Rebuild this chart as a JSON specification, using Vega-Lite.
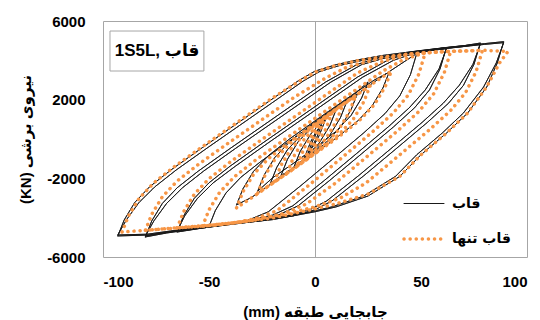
{
"$schema": "https://vega.github.io/schema/vega-lite/v6.json",
"width": 424,
"height": 236,
"autosize": {"type": "none"},
"padding": {"left": 103, "top": 21, "right": 13, "bottom": 63},
"config": {"view": {"stroke": "#a6a6a6", "strokeWidth": 1}, "font": "Liberation Sans, DejaVu Sans"},
"layer": [
{
"data": {"values": [
{"series":"قاب","loop":1,"x":-3,"y":-650},{"series":"قاب","loop":1,"x":-1,"y":-75},{"series":"قاب","loop":1,"x":1,"y":380},{"series":"قاب","loop":1,"x":3,"y":700},{"series":"قاب","loop":1,"x":1,"y":125},{"series":"قاب","loop":1,"x":-1,"y":-330},{"series":"قاب","loop":1,"x":-3,"y":-650},
{"series":"قاب","loop":2,"x":-5,"y":-950},{"series":"قاب","loop":2,"x":-2,"y":-135},{"series":"قاب","loop":2,"x":0,"y":272},{"series":"قاب","loop":2,"x":3,"y":754},{"series":"قاب","loop":2,"x":5,"y":1000},{"series":"قاب","loop":2,"x":2,"y":185},{"series":"قاب","loop":2,"x":0,"y":-222},{"series":"قاب","loop":2,"x":-3,"y":-704},{"series":"قاب","loop":2,"x":-5,"y":-950},
{"series":"قاب","loop":3,"x":-10,"y":-1450},{"series":"قاب","loop":3,"x":-7,"y":-635},{"series":"قاب","loop":3,"x":-2,"y":254},{"series":"قاب","loop":3,"x":2,"y":747},{"series":"قاب","loop":3,"x":6,"y":1145},{"series":"قاب","loop":3,"x":10,"y":1500},{"series":"قاب","loop":3,"x":7,"y":685},{"series":"قاب","loop":3,"x":2,"y":-204},{"series":"قاب","loop":3,"x":-2,"y":-697},{"series":"قاب","loop":3,"x":-6,"y":-1095},{"series":"قاب","loop":3,"x":-10,"y":-1450},
{"series":"قاب","loop":4,"x":-16,"y":-1850},{"series":"قاب","loop":4,"x":-13,"y":-1035},{"series":"قاب","loop":4,"x":-8,"y":-146},{"series":"قاب","loop":4,"x":-1,"y":652},{"series":"قاب","loop":4,"x":6,"y":1261},{"series":"قاب","loop":4,"x":11,"y":1660},{"series":"قاب","loop":4,"x":15,"y":1900},{"series":"قاب","loop":4,"x":12,"y":1085},{"series":"قاب","loop":4,"x":7,"y":196},{"series":"قاب","loop":4,"x":0,"y":-602},{"series":"قاب","loop":4,"x":-7,"y":-1211},{"series":"قاب","loop":4,"x":-12,"y":-1610},{"series":"قاب","loop":4,"x":-16,"y":-1850},
{"series":"قاب","loop":5,"x":-21,"y":-2250},{"series":"قاب","loop":5,"x":-18,"y":-1435},{"series":"قاب","loop":5,"x":-13,"y":-546},{"series":"قاب","loop":5,"x":-6,"y":252},{"series":"قاب","loop":5,"x":1,"y":861},{"series":"قاب","loop":5,"x":9,"y":1490},{"series":"قاب","loop":5,"x":15,"y":1946},{"series":"قاب","loop":5,"x":20,"y":2300},{"series":"قاب","loop":5,"x":17,"y":1485},{"series":"قاب","loop":5,"x":12,"y":596},{"series":"قاب","loop":5,"x":5,"y":-202},{"series":"قاب","loop":5,"x":-2,"y":-811},{"series":"قاب","loop":5,"x":-10,"y":-1440},{"series":"قاب","loop":5,"x":-16,"y":-1896},{"series":"قاب","loop":5,"x":-21,"y":-2250},
{"series":"قاب","loop":6,"x":-27,"y":-2650},{"series":"قاب","loop":6,"x":-24,"y":-1835},{"series":"قاب","loop":6,"x":-19,"y":-946},{"series":"قاب","loop":6,"x":-12,"y":-148},{"series":"قاب","loop":6,"x":-2,"y":702},{"series":"قاب","loop":6,"x":8,"y":1475},{"series":"قاب","loop":6,"x":18,"y":2225},{"series":"قاب","loop":6,"x":25,"y":2900},{"series":"قاب","loop":6,"x":22,"y":2085},{"series":"قاب","loop":6,"x":17,"y":1196},{"series":"قاب","loop":6,"x":10,"y":398},{"series":"قاب","loop":6,"x":0,"y":-452},{"series":"قاب","loop":6,"x":-10,"y":-1225},{"series":"قاب","loop":6,"x":-20,"y":-1975},{"series":"قاب","loop":6,"x":-27,"y":-2650},
{"series":"قاب","loop":7,"x":-37,"y":-3350},{"series":"قاب","loop":7,"x":-34,"y":-2535},{"series":"قاب","loop":7,"x":-29,"y":-1646},{"series":"قاب","loop":7,"x":-22,"y":-848},{"series":"قاب","loop":7,"x":-12,"y":2},{"series":"قاب","loop":7,"x":3,"y":1150},{"series":"قاب","loop":7,"x":18,"y":2275},{"series":"قاب","loop":7,"x":28,"y":3000},{"series":"قاب","loop":7,"x":35,"y":3400},{"series":"قاب","loop":7,"x":32,"y":2585},{"series":"قاب","loop":7,"x":27,"y":1696},{"series":"قاب","loop":7,"x":20,"y":898},{"series":"قاب","loop":7,"x":10,"y":48},{"series":"قاب","loop":7,"x":-5,"y":-1100},{"series":"قاب","loop":7,"x":-20,"y":-2225},{"series":"قاب","loop":7,"x":-30,"y":-2975},{"series":"قاب","loop":7,"x":-37,"y":-3350},
{"series":"قاب","loop":8,"x":-50,"y":-4450},{"series":"قاب","loop":8,"x":-47,"y":-3635},{"series":"قاب","loop":8,"x":-42,"y":-2746},{"series":"قاب","loop":8,"x":-35,"y":-1948},{"series":"قاب","loop":8,"x":-25,"y":-1098},{"series":"قاب","loop":8,"x":-10,"y":50},{"series":"قاب","loop":8,"x":5,"y":1175},{"series":"قاب","loop":8,"x":20,"y":2300},{"series":"قاب","loop":8,"x":35,"y":3425},{"series":"قاب","loop":8,"x":48,"y":4350},{"series":"قاب","loop":8,"x":45,"y":3268},{"series":"قاب","loop":8,"x":40,"y":2193},{"series":"قاب","loop":8,"x":33,"y":1290},{"series":"قاب","loop":8,"x":23,"y":312},{"series":"قاب","loop":8,"x":8,"y":-1050},{"series":"قاب","loop":8,"x":-7,"y":-2400},{"series":"قاب","loop":8,"x":-22,"y":-3700},{"series":"قاب","loop":8,"x":-32,"y":-4150},{"series":"قاب","loop":8,"x":-42,"y":-4370},{"series":"قاب","loop":8,"x":-50,"y":-4450},
{"series":"قاب","loop":9,"x":-65,"y":-4730},{"series":"قاب","loop":9,"x":-62,"y":-3915},{"series":"قاب","loop":9,"x":-57,"y":-3026},{"series":"قاب","loop":9,"x":-50,"y":-2228},{"series":"قاب","loop":9,"x":-40,"y":-1378},{"series":"قاب","loop":9,"x":-25,"y":-230},{"series":"قاب","loop":9,"x":-10,"y":895},{"series":"قاب","loop":9,"x":5,"y":2020},{"series":"قاب","loop":9,"x":20,"y":3145},{"series":"قاب","loop":9,"x":35,"y":4050},{"series":"قاب","loop":9,"x":45,"y":4380},{"series":"قاب","loop":9,"x":55,"y":4540},{"series":"قاب","loop":9,"x":62,"y":4650},{"series":"قاب","loop":9,"x":59,"y":3568},{"series":"قاب","loop":9,"x":54,"y":2493},{"series":"قاب","loop":9,"x":47,"y":1590},{"series":"قاب","loop":9,"x":37,"y":612},{"series":"قاب","loop":9,"x":22,"y":-750},{"series":"قاب","loop":9,"x":7,"y":-2100},{"series":"قاب","loop":9,"x":-8,"y":-3400},{"series":"قاب","loop":9,"x":-18,"y":-3900},{"series":"قاب","loop":9,"x":-30,"y":-4180},{"series":"قاب","loop":9,"x":-45,"y":-4400},{"series":"قاب","loop":9,"x":-55,"y":-4560},{"series":"قاب","loop":9,"x":-65,"y":-4730},
{"series":"قاب","loop":12,"x":-65,"y":-4680},{"series":"قاب","loop":12,"x":-61.5,"y":-3915},{"series":"قاب","loop":12,"x":-55.5,"y":-3026},{"series":"قاب","loop":12,"x":-48,"y":-2228},{"series":"قاب","loop":12,"x":-37.5,"y":-1378},{"series":"قاب","loop":12,"x":-22.5,"y":-230},{"series":"قاب","loop":12,"x":-7.5,"y":895},{"series":"قاب","loop":12,"x":7.5,"y":2020},{"series":"قاب","loop":12,"x":22.5,"y":3145},{"series":"قاب","loop":12,"x":37,"y":4000},{"series":"قاب","loop":12,"x":46,"y":4330},{"series":"قاب","loop":12,"x":55,"y":4500},{"series":"قاب","loop":12,"x":62,"y":4600},{"series":"قاب","loop":12,"x":58.5,"y":3568},{"series":"قاب","loop":12,"x":52,"y":2493},{"series":"قاب","loop":12,"x":44.5,"y":1590},{"series":"قاب","loop":12,"x":34.5,"y":612},{"series":"قاب","loop":12,"x":19.5,"y":-750},{"series":"قاب","loop":12,"x":4.5,"y":-2100},{"series":"قاب","loop":12,"x":-10.5,"y":-3400},{"series":"قاب","loop":12,"x":-20,"y":-3870},{"series":"قاب","loop":12,"x":-32,"y":-4150},{"series":"قاب","loop":12,"x":-46,"y":-4370},{"series":"قاب","loop":12,"x":-56,"y":-4530},{"series":"قاب","loop":12,"x":-65,"y":-4680},
{"series":"قاب","loop":10,"x":-80,"y":-4980},{"series":"قاب","loop":10,"x":-77,"y":-4165},{"series":"قاب","loop":10,"x":-72,"y":-3276},{"series":"قاب","loop":10,"x":-65,"y":-2478},{"series":"قاب","loop":10,"x":-55,"y":-1628},{"series":"قاب","loop":10,"x":-40,"y":-480},{"series":"قاب","loop":10,"x":-25,"y":645},{"series":"قاب","loop":10,"x":-10,"y":1770},{"series":"قاب","loop":10,"x":5,"y":2895},{"series":"قاب","loop":10,"x":20,"y":3800},{"series":"قاب","loop":10,"x":30,"y":4120},{"series":"قاب","loop":10,"x":45,"y":4420},{"series":"قاب","loop":10,"x":60,"y":4620},{"series":"قاب","loop":10,"x":70,"y":4740},{"series":"قاب","loop":10,"x":78,"y":4880},{"series":"قاب","loop":10,"x":75,"y":3798},{"series":"قاب","loop":10,"x":70,"y":2723},{"series":"قاب","loop":10,"x":63,"y":1820},{"series":"قاب","loop":10,"x":53,"y":842},{"series":"قاب","loop":10,"x":38,"y":-520},{"series":"قاب","loop":10,"x":23,"y":-1870},{"series":"قاب","loop":10,"x":8,"y":-3150},{"series":"قاب","loop":10,"x":0,"y":-3600},{"series":"قاب","loop":10,"x":-10,"y":-3900},{"series":"قاب","loop":10,"x":-25,"y":-4150},{"series":"قاب","loop":10,"x":-40,"y":-4350},{"series":"قاب","loop":10,"x":-55,"y":-4550},{"series":"قاب","loop":10,"x":-70,"y":-4780},{"series":"قاب","loop":10,"x":-80,"y":-4980},
{"series":"قاب","loop":13,"x":-80,"y":-4930},{"series":"قاب","loop":13,"x":-76,"y":-4165},{"series":"قاب","loop":13,"x":-70,"y":-3276},{"series":"قاب","loop":13,"x":-62.5,"y":-2478},{"series":"قاب","loop":13,"x":-52.5,"y":-1628},{"series":"قاب","loop":13,"x":-37.5,"y":-480},{"series":"قاب","loop":13,"x":-22.5,"y":645},{"series":"قاب","loop":13,"x":-7.5,"y":1770},{"series":"قاب","loop":13,"x":7.5,"y":2895},{"series":"قاب","loop":13,"x":22,"y":3780},{"series":"قاب","loop":13,"x":32,"y":4090},{"series":"قاب","loop":13,"x":47,"y":4400},{"series":"قاب","loop":13,"x":61,"y":4590},{"series":"قاب","loop":13,"x":70,"y":4700},{"series":"قاب","loop":13,"x":78,"y":4830},{"series":"قاب","loop":13,"x":74.5,"y":3798},{"series":"قاب","loop":13,"x":68,"y":2723},{"series":"قاب","loop":13,"x":60.5,"y":1820},{"series":"قاب","loop":13,"x":50.5,"y":842},{"series":"قاب","loop":13,"x":35.5,"y":-520},{"series":"قاب","loop":13,"x":20.5,"y":-1870},{"series":"قاب","loop":13,"x":5.5,"y":-3150},{"series":"قاب","loop":13,"x":-2.5,"y":-3600},{"series":"قاب","loop":13,"x":-12,"y":-3880},{"series":"قاب","loop":13,"x":-27,"y":-4130},{"series":"قاب","loop":13,"x":-42,"y":-4330},{"series":"قاب","loop":13,"x":-56,"y":-4520},{"series":"قاب","loop":13,"x":-70,"y":-4740},{"series":"قاب","loop":13,"x":-80,"y":-4930},
{"series":"قاب","loop":11,"x":-93,"y":-4930},{"series":"قاب","loop":11,"x":-90,"y":-4115},{"series":"قاب","loop":11,"x":-85,"y":-3226},{"series":"قاب","loop":11,"x":-78,"y":-2428},{"series":"قاب","loop":11,"x":-68,"y":-1578},{"series":"قاب","loop":11,"x":-53,"y":-430},{"series":"قاب","loop":11,"x":-38,"y":695},{"series":"قاب","loop":11,"x":-23,"y":1820},{"series":"قاب","loop":11,"x":-8,"y":2950},{"series":"قاب","loop":11,"x":0,"y":3450},{"series":"قاب","loop":11,"x":10,"y":3780},{"series":"قاب","loop":11,"x":20,"y":4020},{"series":"قاب","loop":11,"x":32,"y":4250},{"series":"قاب","loop":11,"x":50,"y":4500},{"series":"قاب","loop":11,"x":64,"y":4680},{"series":"قاب","loop":11,"x":80,"y":4850},{"series":"قاب","loop":11,"x":89,"y":4950},{"series":"قاب","loop":11,"x":86,"y":3868},{"series":"قاب","loop":11,"x":81,"y":2640},{"series":"قاب","loop":11,"x":72,"y":1320},{"series":"قاب","loop":11,"x":62,"y":300},{"series":"قاب","loop":11,"x":50,"y":-800},{"series":"قاب","loop":11,"x":40,"y":-1900},{"series":"قاب","loop":11,"x":25,"y":-2900},{"series":"قاب","loop":11,"x":10,"y":-3450},{"series":"قاب","loop":11,"x":0,"y":-3700},{"series":"قاب","loop":11,"x":-20,"y":-4100},{"series":"قاب","loop":11,"x":-40,"y":-4330},{"series":"قاب","loop":11,"x":-60,"y":-4600},{"series":"قاب","loop":11,"x":-78,"y":-4880},{"series":"قاب","loop":11,"x":-93,"y":-4930},
{"series":"قاب","loop":14,"x":-93,"y":-4880},{"series":"قاب","loop":14,"x":-89,"y":-4115},{"series":"قاب","loop":14,"x":-83,"y":-3226},{"series":"قاب","loop":14,"x":-75.5,"y":-2428},{"series":"قاب","loop":14,"x":-65.5,"y":-1578},{"series":"قاب","loop":14,"x":-50.5,"y":-430},{"series":"قاب","loop":14,"x":-35.5,"y":695},{"series":"قاب","loop":14,"x":-20.5,"y":1820},{"series":"قاب","loop":14,"x":-5.5,"y":2950},{"series":"قاب","loop":14,"x":2,"y":3420},{"series":"قاب","loop":14,"x":12,"y":3750},{"series":"قاب","loop":14,"x":22,"y":3990},{"series":"قاب","loop":14,"x":34,"y":4220},{"series":"قاب","loop":14,"x":51,"y":4470},{"series":"قاب","loop":14,"x":65,"y":4650},{"series":"قاب","loop":14,"x":80,"y":4810},{"series":"قاب","loop":14,"x":89,"y":4900},{"series":"قاب","loop":14,"x":85.5,"y":3868},{"series":"قاب","loop":14,"x":79.5,"y":2640},{"series":"قاب","loop":14,"x":70,"y":1320},{"series":"قاب","loop":14,"x":60,"y":300},{"series":"قاب","loop":14,"x":48,"y":-800},{"series":"قاب","loop":14,"x":38,"y":-1900},{"series":"قاب","loop":14,"x":23,"y":-2900},{"series":"قاب","loop":14,"x":8,"y":-3450},{"series":"قاب","loop":14,"x":-2,"y":-3700},{"series":"قاب","loop":14,"x":-22,"y":-4080},{"series":"قاب","loop":14,"x":-42,"y":-4310},{"series":"قاب","loop":14,"x":-61,"y":-4570},{"series":"قاب","loop":14,"x":-79,"y":-4840},{"series":"قاب","loop":14,"x":-93,"y":-4880},
{"series":"قاب تنها","loop":21,"x":-4,"y":-800},{"series":"قاب تنها","loop":21,"x":-1,"y":15},{"series":"قاب تنها","loop":21,"x":1,"y":422},{"series":"قاب تنها","loop":21,"x":4,"y":850},{"series":"قاب تنها","loop":21,"x":1,"y":35},{"series":"قاب تنها","loop":21,"x":-1,"y":-372},{"series":"قاب تنها","loop":21,"x":-4,"y":-800},
{"series":"قاب تنها","loop":22,"x":-8,"y":-1250},{"series":"قاب تنها","loop":22,"x":-5,"y":-435},{"series":"قاب تنها","loop":22,"x":0,"y":454},{"series":"قاب تنها","loop":22,"x":4,"y":947},{"series":"قاب تنها","loop":22,"x":8,"y":1300},{"series":"قاب تنها","loop":22,"x":5,"y":485},{"series":"قاب تنها","loop":22,"x":0,"y":-404},{"series":"قاب تنها","loop":22,"x":-4,"y":-897},{"series":"قاب تنها","loop":22,"x":-8,"y":-1250},
{"series":"قاب تنها","loop":23,"x":-13,"y":-1700},{"series":"قاب تنها","loop":23,"x":-10,"y":-885},{"series":"قاب تنها","loop":23,"x":-5,"y":4},{"series":"قاب تنها","loop":23,"x":2,"y":802},{"series":"قاب تنها","loop":23,"x":8,"y":1330},{"series":"قاب تنها","loop":23,"x":13,"y":1700},{"series":"قاب تنها","loop":23,"x":10,"y":885},{"series":"قاب تنها","loop":23,"x":5,"y":-4},{"series":"قاب تنها","loop":23,"x":-2,"y":-802},{"series":"قاب تنها","loop":23,"x":-8,"y":-1330},{"series":"قاب تنها","loop":23,"x":-13,"y":-1700},
{"series":"قاب تنها","loop":24,"x":-19,"y":-2150},{"series":"قاب تنها","loop":24,"x":-16,"y":-1335},{"series":"قاب تنها","loop":24,"x":-11,"y":-446},{"series":"قاب تنها","loop":24,"x":-4,"y":352},{"series":"قاب تنها","loop":24,"x":6,"y":1202},{"series":"قاب تنها","loop":24,"x":13,"y":1745},{"series":"قاب تنها","loop":24,"x":19,"y":2150},{"series":"قاب تنها","loop":24,"x":16,"y":1335},{"series":"قاب تنها","loop":24,"x":11,"y":446},{"series":"قاب تنها","loop":24,"x":4,"y":-352},{"series":"قاب تنها","loop":24,"x":-6,"y":-1202},{"series":"قاب تنها","loop":24,"x":-13,"y":-1745},{"series":"قاب تنها","loop":24,"x":-19,"y":-2150},
{"series":"قاب تنها","loop":25,"x":-27,"y":-2750},{"series":"قاب تنها","loop":25,"x":-24,"y":-1935},{"series":"قاب تنها","loop":25,"x":-19,"y":-1046},{"series":"قاب تنها","loop":25,"x":-12,"y":-248},{"series":"قاب تنها","loop":25,"x":-2,"y":602},{"series":"قاب تنها","loop":25,"x":8,"y":1375},{"series":"قاب تنها","loop":25,"x":18,"y":2125},{"series":"قاب تنها","loop":25,"x":26,"y":2700},{"series":"قاب تنها","loop":25,"x":23,"y":1885},{"series":"قاب تنها","loop":25,"x":18,"y":996},{"series":"قاب تنها","loop":25,"x":11,"y":198},{"series":"قاب تنها","loop":25,"x":1,"y":-652},{"series":"قاب تنها","loop":25,"x":-9,"y":-1425},{"series":"قاب تنها","loop":25,"x":-19,"y":-2175},{"series":"قاب تنها","loop":25,"x":-27,"y":-2750},
{"series":"قاب تنها","loop":26,"x":-37,"y":-3500},{"series":"قاب تنها","loop":26,"x":-34,"y":-2685},{"series":"قاب تنها","loop":26,"x":-29,"y":-1796},{"series":"قاب تنها","loop":26,"x":-22,"y":-998},{"series":"قاب تنها","loop":26,"x":-12,"y":-148},{"series":"قاب تنها","loop":26,"x":3,"y":1000},{"series":"قاب تنها","loop":26,"x":18,"y":2125},{"series":"قاب تنها","loop":26,"x":28,"y":2875},{"series":"قاب تنها","loop":26,"x":36,"y":3450},{"series":"قاب تنها","loop":26,"x":33,"y":2635},{"series":"قاب تنها","loop":26,"x":28,"y":1746},{"series":"قاب تنها","loop":26,"x":21,"y":948},{"series":"قاب تنها","loop":26,"x":11,"y":98},{"series":"قاب تنها","loop":26,"x":-4,"y":-1050},{"series":"قاب تنها","loop":26,"x":-19,"y":-2175},{"series":"قاب تنها","loop":26,"x":-29,"y":-2925},{"series":"قاب تنها","loop":26,"x":-37,"y":-3500},
{"series":"قاب تنها","loop":27,"x":-53,"y":-4420},{"series":"قاب تنها","loop":27,"x":-50,"y":-3605},{"series":"قاب تنها","loop":27,"x":-45,"y":-2716},{"series":"قاب تنها","loop":27,"x":-38,"y":-1918},{"series":"قاب تنها","loop":27,"x":-28,"y":-1068},{"series":"قاب تنها","loop":27,"x":-13,"y":80},{"series":"قاب تنها","loop":27,"x":2,"y":1205},{"series":"قاب تنها","loop":27,"x":17,"y":2330},{"series":"قاب تنها","loop":27,"x":32,"y":3455},{"series":"قاب تنها","loop":27,"x":42,"y":4050},{"series":"قاب تنها","loop":27,"x":52,"y":4390},{"series":"قاب تنها","loop":27,"x":49,"y":3308},{"series":"قاب تنها","loop":27,"x":44,"y":2233},{"series":"قاب تنها","loop":27,"x":37,"y":1330},{"series":"قاب تنها","loop":27,"x":27,"y":352},{"series":"قاب تنها","loop":27,"x":12,"y":-1010},{"series":"قاب تنها","loop":27,"x":-3,"y":-2360},{"series":"قاب تنها","loop":27,"x":-18,"y":-3650},{"series":"قاب تنها","loop":27,"x":-28,"y":-4050},{"series":"قاب تنها","loop":27,"x":-40,"y":-4300},{"series":"قاب تنها","loop":27,"x":-53,"y":-4420},
{"series":"قاب تنها","loop":28,"x":-65,"y":-4520},{"series":"قاب تنها","loop":28,"x":-62,"y":-3705},{"series":"قاب تنها","loop":28,"x":-57,"y":-2816},{"series":"قاب تنها","loop":28,"x":-50,"y":-2018},{"series":"قاب تنها","loop":28,"x":-40,"y":-1168},{"series":"قاب تنها","loop":28,"x":-25,"y":-20},{"series":"قاب تنها","loop":28,"x":-10,"y":1105},{"series":"قاب تنها","loop":28,"x":5,"y":2230},{"series":"قاب تنها","loop":28,"x":20,"y":3355},{"series":"قاب تنها","loop":28,"x":32,"y":3950},{"series":"قاب تنها","loop":28,"x":45,"y":4300},{"series":"قاب تنها","loop":28,"x":55,"y":4410},{"series":"قاب تنها","loop":28,"x":64,"y":4460},{"series":"قاب تنها","loop":28,"x":61,"y":3378},{"series":"قاب تنها","loop":28,"x":56,"y":2303},{"series":"قاب تنها","loop":28,"x":49,"y":1400},{"series":"قاب تنها","loop":28,"x":39,"y":422},{"series":"قاب تنها","loop":28,"x":24,"y":-940},{"series":"قاب تنها","loop":28,"x":9,"y":-2290},{"series":"قاب تنها","loop":28,"x":-4,"y":-3300},{"series":"قاب تنها","loop":28,"x":-15,"y":-3800},{"series":"قاب تنها","loop":28,"x":-30,"y":-4150},{"series":"قاب تنها","loop":28,"x":-45,"y":-4350},{"series":"قاب تنها","loop":28,"x":-55,"y":-4450},{"series":"قاب تنها","loop":28,"x":-65,"y":-4520},
{"series":"قاب تنها","loop":29,"x":-80,"y":-4640},{"series":"قاب تنها","loop":29,"x":-77,"y":-3825},{"series":"قاب تنها","loop":29,"x":-72,"y":-2936},{"series":"قاب تنها","loop":29,"x":-65,"y":-2138},{"series":"قاب تنها","loop":29,"x":-55,"y":-1288},{"series":"قاب تنها","loop":29,"x":-40,"y":-140},{"series":"قاب تنها","loop":29,"x":-25,"y":985},{"series":"قاب تنها","loop":29,"x":-10,"y":2110},{"series":"قاب تنها","loop":29,"x":5,"y":3100},{"series":"قاب تنها","loop":29,"x":15,"y":3650},{"series":"قاب تنها","loop":29,"x":30,"y":4080},{"series":"قاب تنها","loop":29,"x":45,"y":4320},{"series":"قاب تنها","loop":29,"x":60,"y":4440},{"series":"قاب تنها","loop":29,"x":79,"y":4510},{"series":"قاب تنها","loop":29,"x":76,"y":3428},{"series":"قاب تنها","loop":29,"x":71,"y":2353},{"series":"قاب تنها","loop":29,"x":64,"y":1450},{"series":"قاب تنها","loop":29,"x":54,"y":472},{"series":"قاب تنها","loop":29,"x":39,"y":-890},{"series":"قاب تنها","loop":29,"x":24,"y":-2240},{"series":"قاب تنها","loop":29,"x":12,"y":-3000},{"series":"قاب تنها","loop":29,"x":0,"y":-3450},{"series":"قاب تنها","loop":29,"x":-15,"y":-3850},{"series":"قاب تنها","loop":29,"x":-35,"y":-4220},{"series":"قاب تنها","loop":29,"x":-50,"y":-4380},{"series":"قاب تنها","loop":29,"x":-65,"y":-4510},{"series":"قاب تنها","loop":29,"x":-80,"y":-4640},
{"series":"قاب تنها","loop":30,"x":-91,"y":-4730},{"series":"قاب تنها","loop":30,"x":-88,"y":-3915},{"series":"قاب تنها","loop":30,"x":-83,"y":-3026},{"series":"قاب تنها","loop":30,"x":-76,"y":-2228},{"series":"قاب تنها","loop":30,"x":-66,"y":-1378},{"series":"قاب تنها","loop":30,"x":-51,"y":-230},{"series":"قاب تنها","loop":30,"x":-36,"y":895},{"series":"قاب تنها","loop":30,"x":-21,"y":2020},{"series":"قاب تنها","loop":30,"x":-8,"y":2900},{"series":"قاب تنها","loop":30,"x":0,"y":3400},{"series":"قاب تنها","loop":30,"x":10,"y":3750},{"series":"قاب تنها","loop":30,"x":20,"y":3980},{"series":"قاب تنها","loop":30,"x":30,"y":4150},{"series":"قاب تنها","loop":30,"x":45,"y":4330},{"series":"قاب تنها","loop":30,"x":60,"y":4440},{"series":"قاب تنها","loop":30,"x":80,"y":4510},{"series":"قاب تنها","loop":30,"x":91,"y":4450},{"series":"قاب تنها","loop":30,"x":87,"y":3860},{"series":"قاب تنها","loop":30,"x":81,"y":2650},{"series":"قاب تنها","loop":30,"x":72,"y":1320},{"series":"قاب تنها","loop":30,"x":62,"y":300},{"series":"قاب تنها","loop":30,"x":50,"y":-800},{"series":"قاب تنها","loop":30,"x":40,"y":-1900},{"series":"قاب تنها","loop":30,"x":25,"y":-2800},{"series":"قاب تنها","loop":30,"x":10,"y":-3300},{"series":"قاب تنها","loop":30,"x":0,"y":-3550},{"series":"قاب تنها","loop":30,"x":-20,"y":-4020},{"series":"قاب تنها","loop":30,"x":-50,"y":-4400},{"series":"قاب تنها","loop":30,"x":-80,"y":-4640},{"series":"قاب تنها","loop":30,"x":-91,"y":-4730}
]},
"mark": {"type": "line", "strokeCap": "round", "strokeJoin": "round"},
"encoding": {
"x": {"field": "x", "type": "quantitative", "scale": {"domain": [-100, 100], "nice": false},
 "axis": {"values": [-100, -50, 0, 50, 100], "labelExpr": "toString(datum.value)", "labelOverlap": false, "title": "(mm) جابجایی طبقه", "grid": true,
  "gridColor": "#a6a6a6", "gridOpacity": {"condition": {"test": "datum.value === 0", "value": 1}, "value": 0},
  "ticks": false, "domain": false,
  "labelPadding": 17, "labelFontSize": 15, "labelFontWeight": "bold", "labelColor": "#000",
  "titleFontSize": 15, "titleFontWeight": "bold", "titleColor": "#000", "titlePadding": 15}},
"y": {"field": "y", "type": "quantitative", "scale": {"domain": [-6000, 6000], "nice": false},
 "axis": {"values": [-6000, -4000, -2000, 0, 2000, 4000, 6000], "labelExpr": "toString(datum.value)", "labelOverlap": false, "title": "(KN) نیروی برشی", "grid": true,
  "gridColor": "#a6a6a6", "gridOpacity": {"condition": {"test": "datum.value === 0", "value": 1}, "value": 0},
  "ticks": false, "domain": false,
  "labelPadding": 18, "labelFontSize": 15, "labelFontWeight": "bold", "labelColor": "#000",
  "titleFontSize": 15, "titleFontWeight": "bold", "titleColor": "#000", "titlePadding": 13}},
"color": {"field": "series", "type": "nominal", "scale": {"domain": ["قاب", "قاب تنها"], "range": ["#1a1a1a", "#F79646"]},
 "legend": {"title": null, "orient": "none", "legendX": 299, "legendY": 162, "padding": 0, "symbolType": "stroke", "symbolSize": 1600,
  "rowPadding": 6, "labelFontSize": 14, "labelFontWeight": "bold", "labelFont": "DejaVu Sans", "labelColor": "#000", "labelOffset": 6,
  "encode": {"symbols": {"update": {"strokeCap": {"value": "round"}}}}}},
"strokeDash": {"field": "series", "type": "nominal", "scale": {"domain": ["قاب", "قاب تنها"], "range": [[1, 0], [0.1, 6]]}, "legend": {"title": null}},
"strokeWidth": {"field": "series", "type": "nominal", "scale": {"domain": ["قاب", "قاب تنها"], "range": [1, 3.5]}, "legend": {"title": null}},
"detail": {"field": "loop", "type": "nominal"},
"order": {"value": null}
}
},
{
"data": {"values": [{}]},
"mark": {"type": "rect", "fill": "#ffffff", "stroke": "#a6a6a6", "strokeWidth": 1},
"encoding": {
"x": {"datum": -96.7, "type": "quantitative"}, "x2": {"datum": -52.4},
"y": {"datum": 5490, "type": "quantitative"}, "y2": {"datum": 3457}
}
},
{
"data": {"values": [{}]},
"mark": {"type": "text", "text": "1S5L, قاب", "fontSize": 17, "fontWeight": "bold", "font": "Liberation Sans, DejaVu Sans", "align": "center", "baseline": "middle", "color": "#000"},
"encoding": {
"x": {"datum": -74.5, "type": "quantitative"},
"y": {"datum": 4470, "type": "quantitative"}
}
}
]
}
